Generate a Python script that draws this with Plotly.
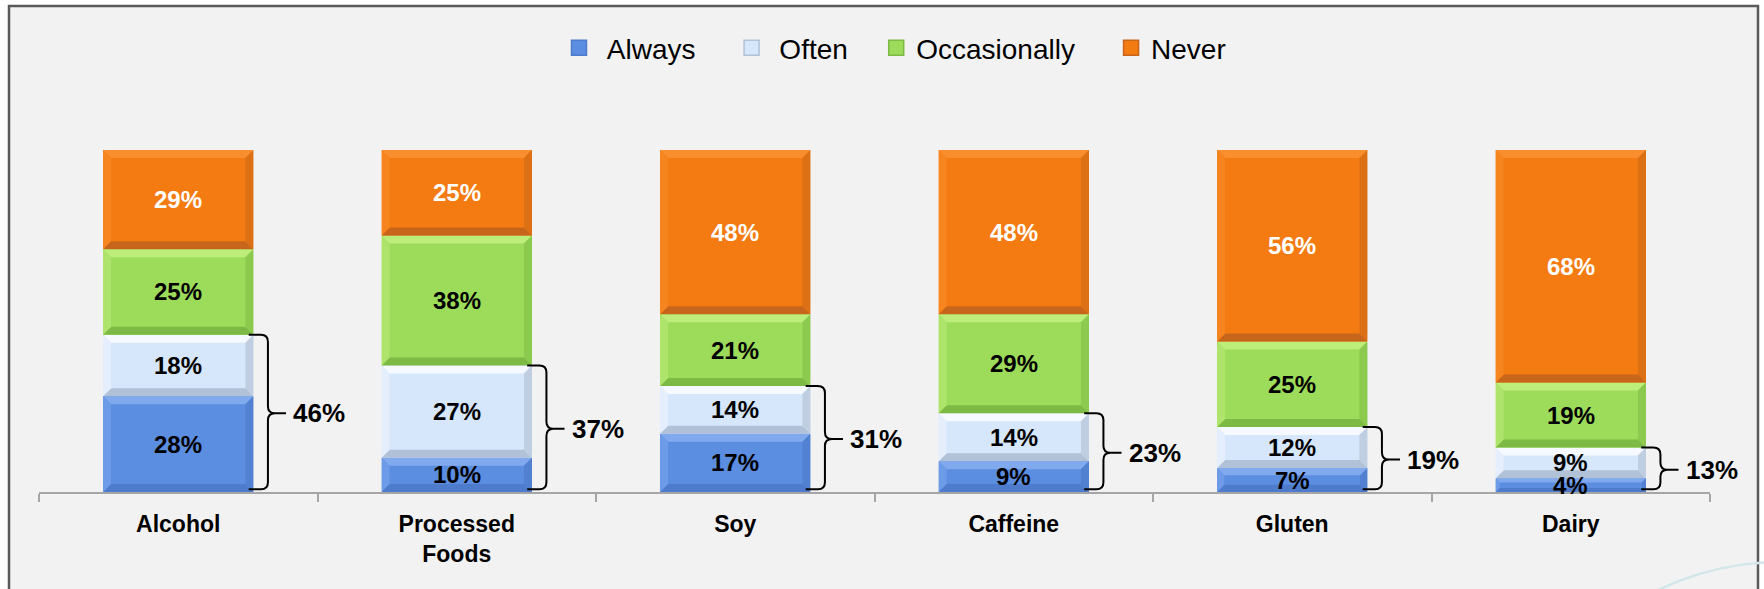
import plotly.graph_objects as go

# ---- data ----
categories = ["Alcohol", "Processed<br>Foods", "Soy", "Caffeine", "Gluten", "Dairy"]
series_names = ["Always", "Often", "Occasionally", "Never"]
always = [28, 10, 17, 9, 7, 4]
often = [18, 27, 14, 14, 12, 9]
occasionally = [25, 38, 21, 29, 25, 19]
never = [29, 25, 48, 48, 56, 68]
always_or_often = [46, 37, 31, 23, 19, 13]

series_values = [always, often, occasionally, never]

# ---- styling ----
FONT = "Liberation Sans, Arial, sans-serif"
W, H = 1764, 589
ML, MR, MT, MB = 39, 54, 150, 97
PLOT_W = W - ML - MR
PLOT_H = H - MT - MB
X_RANGE = (-0.5, len(categories) - 0.5)
Y_RANGE = (0, 100)
PX_X = PLOT_W / (X_RANGE[1] - X_RANGE[0])   # pixels per category
PX_Y = PLOT_H / (Y_RANGE[1] - Y_RANGE[0])   # pixels per percent
BAR_W = 0.54

base_col = ["#5b8de0", "#d6e6fb", "#9ddc5a", "#f47b12"]
top_col = ["#80a9ee", "#f6f9ff", "#bdee7c", "#f98e2e"]
left_col = ["#6e9be7", "#e5eefc", "#afe46c", "#f6851f"]
right_col = ["#5381d1", "#c0cee1", "#8bc94f", "#dc7015"]
bot_col = ["#4e7bcb", "#b1c1d7", "#7dba45", "#c7661a"]
label_col = ["black", "black", "black", "white"]

# legend entry spacing (leading / trailing non-breaking spaces)
NB = "\u00a0"
legend_labels = [NB + "Always" + NB * 4, NB + "Often" + NB * 3, "Occasionally" + NB * 4, "Never"]

fig = go.Figure()

for k, (name, vals) in enumerate(zip(series_names, series_values)):
    fig.add_trace(go.Bar(
        x=list(range(len(categories))), y=vals, name=name,
        width=BAR_W, marker=dict(color=base_col[k], line=dict(width=0)),
        hoverinfo="skip", showlegend=False,
    ))

# legend keys with larger square swatches
for k, label in enumerate(legend_labels):
    fig.add_trace(go.Scatter(
        x=[None], y=[None], mode="markers", name=label,
        marker=dict(symbol="square", size=15, color=base_col[k],
                    line=dict(color=bot_col[k], width=1.5)),
        hoverinfo="skip", showlegend=True,
    ))

shapes = []
annotations = []


def px_to_paper_x(p):
    return (p - ML) / PLOT_W


def px_to_paper_y(p):
    return (H - MB - p) / PLOT_H


# panel frame
shapes.append(dict(type="rect", xref="paper", yref="paper", layer="below",
                   x0=px_to_paper_x(9), x1=px_to_paper_x(1758),
                   y0=px_to_paper_y(620), y1=px_to_paper_y(6),
                   fillcolor="#f2f2f2", line=dict(color="#5a5a5a", width=2.5)))
# decorative arc in the lower right corner
shapes.append(dict(type="circle", xref="paper", yref="paper", layer="below",
                   x0=px_to_paper_x(1502), x1=px_to_paper_x(2058),
                   y0=px_to_paper_y(1118), y1=px_to_paper_y(562),
                   line=dict(color="#d2e7e9", width=2.5)))

# bevel edges on every segment, plus value labels
for i in range(len(categories)):
    bottom = 0
    x0, x1 = i - BAR_W / 2, i + BAR_W / 2
    for k, vals in enumerate(series_values):
        v = vals[i]
        top = bottom + v
        seg_px = v * PX_Y
        b_px = min(8.0, seg_px * 0.3)
        bx = b_px / PX_X
        by = b_px / PX_Y

        def poly(pts, col):
            d = "M " + " L ".join(f"{a},{b}" for a, b in pts) + " Z"
            return dict(type="path", path=d, xref="x", yref="y", layer="above",
                        fillcolor=col, line=dict(width=0))

        shapes.append(poly([(x0, top), (x1, top), (x1 - bx, top - by), (x0 + bx, top - by)], top_col[k]))
        shapes.append(poly([(x0, bottom), (x1, bottom), (x1 - bx, bottom + by), (x0 + bx, bottom + by)], bot_col[k]))
        shapes.append(poly([(x0, bottom), (x0, top), (x0 + bx, top - by), (x0 + bx, bottom + by)], left_col[k]))
        shapes.append(poly([(x1, bottom), (x1, top), (x1 - bx, top - by), (x1 - bx, bottom + by)], right_col[k]))

        annotations.append(dict(x=i, y=bottom + v / 2, xref="x", yref="y",
                                text=f"{v}%", showarrow=False,
                                font=dict(family=FONT, size=24, color=label_col[k], weight="bold")))
        bottom = top

    # curly brace grouping Always + Often
    ytop = always[i] + often[i]
    ybot = 0.8
    ymid = ytop / 2
    xs, xv, xt = i + 0.253, i + 0.322, i + 0.387
    rx = 7 / PX_X
    ry = 7 / PX_Y
    brace = (f"M {xs},{ytop} L {xv - rx},{ytop} Q {xv},{ytop} {xv},{ytop - ry} "
             f"L {xv},{ymid + ry} Q {xv},{ymid} {xv + rx},{ymid} L {xt},{ymid} "
             f"M {xv + rx},{ymid} Q {xv},{ymid} {xv},{ymid - ry} "
             f"L {xv},{ybot + ry} Q {xv},{ybot} {xv - rx},{ybot} L {xs},{ybot}")
    shapes.append(dict(type="path", path=brace, xref="x", yref="y", layer="above",
                       line=dict(color="black", width=2)))
    annotations.append(dict(x=i + 0.405, y=ymid, xref="x", yref="y", xanchor="left",
                            text=f"{always_or_often[i]}%", showarrow=False,
                            font=dict(family=FONT, size=26, color="black", weight="bold")))

fig.update_layout(
    width=W, height=H,
    margin=dict(l=ML, r=MR, t=MT, b=MB, pad=0),
    barmode="stack",
    paper_bgcolor="white",
    plot_bgcolor="rgba(0,0,0,0)",
    shapes=shapes,
    annotations=annotations,
    showlegend=True,
    legend=dict(orientation="h", xref="container", yref="container",
                x=0.5 + 13 / W, xanchor="center", y=1 - 48 / H, yanchor="middle",
                font=dict(family=FONT, size=28, color="black"),
                bgcolor="rgba(0,0,0,0)", traceorder="normal", itemwidth=30),
    xaxis=dict(range=list(X_RANGE), tickmode="array",
               tickvals=list(range(len(categories))), ticktext=categories,
               ticks="", showgrid=False, zeroline=False,
               showline=True, linecolor="#a6a6a6", linewidth=1.5,
               tickfont=dict(family=FONT, size=23, color="black", weight="bold"),
               ticklabelstandoff=11,
               minor=dict(tickmode="linear", tick0=0.5, dtick=1, ticks="outside",
                          ticklen=8, tickwidth=1.5, tickcolor="#a6a6a6", showgrid=False)),
    yaxis=dict(range=list(Y_RANGE), visible=False, showgrid=False, zeroline=False),
)

fig.write_html("out.html")
